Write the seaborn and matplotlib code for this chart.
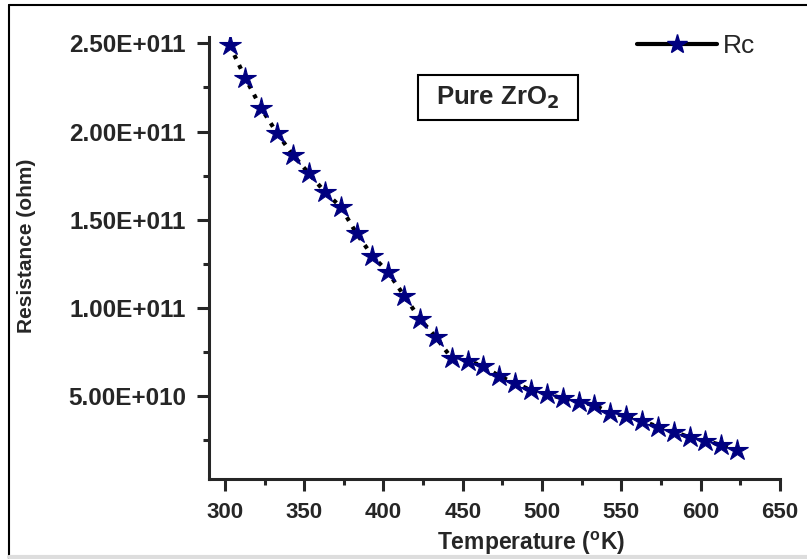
import matplotlib
matplotlib.use("Agg")
import matplotlib.pyplot as plt
import seaborn as sns
from matplotlib.lines import Line2D
from matplotlib.patches import Rectangle
from matplotlib.ticker import FuncFormatter, MultipleLocator

# data
temperature = [303, 313, 323, 333, 343, 353, 363, 373, 383, 393, 403,
               413, 423, 433, 443, 453, 463, 473, 483, 493, 503, 513,
               523, 533, 543, 553, 563, 573, 583, 593, 603, 613, 623]
resistance_e10 = [24.90, 23.01, 21.31, 19.89, 18.66, 17.62, 16.58, 15.73,
                  14.22, 12.95, 12.01, 10.69, 9.37, 8.34, 7.14, 7.00, 6.70,
                  6.13, 5.72, 5.34, 5.11, 4.87, 4.68, 4.49, 4.02, 3.87,
                  3.60, 3.26, 2.98, 2.66, 2.47, 2.22, 1.96]
resistance = [r * 1e10 for r in resistance_e10]

sns.set_style("ticks")
plt.rcParams['font.family'] = ['Liberation Sans', 'DejaVu Sans']
plt.rcParams['mathtext.default'] = 'regular'

fig = plt.figure(figsize=(8.07, 5.59), dpi=100)
ax = fig.add_axes([0.259, 0.1431, 0.7075, 0.7907])

sns.lineplot(x=temperature, y=resistance, ax=ax, color='black',
             linestyle=':', linewidth=3, marker='*', markersize=16,
             markerfacecolor='#000080', markeredgecolor='#000080',
             markeredgewidth=0.8)

ax.set_xlim(290, 650)
ax.set_ylim(2.95e9, 2.536e11)
ax.xaxis.set_major_locator(MultipleLocator(50))
ax.xaxis.set_minor_locator(MultipleLocator(25))
ax.yaxis.set_major_locator(MultipleLocator(5e10))
ax.yaxis.set_minor_locator(MultipleLocator(2.5e10))


def sci_fmt(v, pos):
    if v <= 0:
        return ''
    s = f"{v:.2E}"
    mant, exp = s.split('E')
    e = int(exp)
    return f"{mant}E{'+' if e >= 0 else '-'}{abs(e):03d}"


ax.yaxis.set_major_formatter(FuncFormatter(sci_fmt))

sns.despine(ax=ax)
for sp in ['left', 'bottom']:
    ax.spines[sp].set_linewidth(2.2)
ax.tick_params(which='major', direction='out', length=8.6, width=2.2)
ax.tick_params(which='minor', direction='out', length=4.3, width=2.2)
ax.tick_params(axis='x', which='major', labelsize=16, pad=8)
ax.tick_params(axis='y', which='major', labelsize=17.5, pad=8)
for lab in ax.get_xticklabels() + ax.get_yticklabels():
    lab.set_fontweight('bold')

ax.set_xlabel(r'Temperature ($^{o}$K)', fontsize=16.5, fontweight='bold')
ax.xaxis.set_label_coords(0.564, -0.114)
ax.xaxis.label.set_va('top')
ax.set_ylabel('Resistance (ohm)', fontsize=15, fontweight='bold')
ax.yaxis.set_label_coords(-0.303, 0.528)

# legend with a solid line sample like the original
handle = Line2D([], [], color='black', linewidth=3, marker='*',
                markersize=15, markerfacecolor='#000080',
                markeredgecolor='#000080')
ax.legend([handle], ['Rc'], loc='upper right', frameon=False,
          fontsize=19, handlelength=3.0, handletextpad=0.25,
          borderaxespad=0, bbox_to_anchor=(0.9755, 1.03))

# boxed sample label
ax.add_patch(Rectangle((0.366, 0.812), 0.280, 0.102, transform=ax.transAxes,
                       facecolor='white', edgecolor='black', linewidth=1.5,
                       zorder=3))
ax.text(0.506, 0.863, r'Pure ZrO$_\mathbf{2}$', transform=ax.transAxes,
        fontsize=18.5, fontweight='bold', ha='center', va='center', zorder=4)

# outer frame of the figure (top and left edges, grey bottom strip)
fig.add_artist(Line2D([0.011, 1.0], [0.991, 0.991], color='black',
                      linewidth=1.5, transform=fig.transFigure))
fig.add_artist(Line2D([0.011, 0.011], [0.0, 0.991], color='black',
                      linewidth=1.5, transform=fig.transFigure))
fig.add_artist(Line2D([0.011, 1.0], [0.003, 0.003], color='#dddddd',
                      linewidth=3, transform=fig.transFigure))

fig.savefig('out.png', dpi=100)
